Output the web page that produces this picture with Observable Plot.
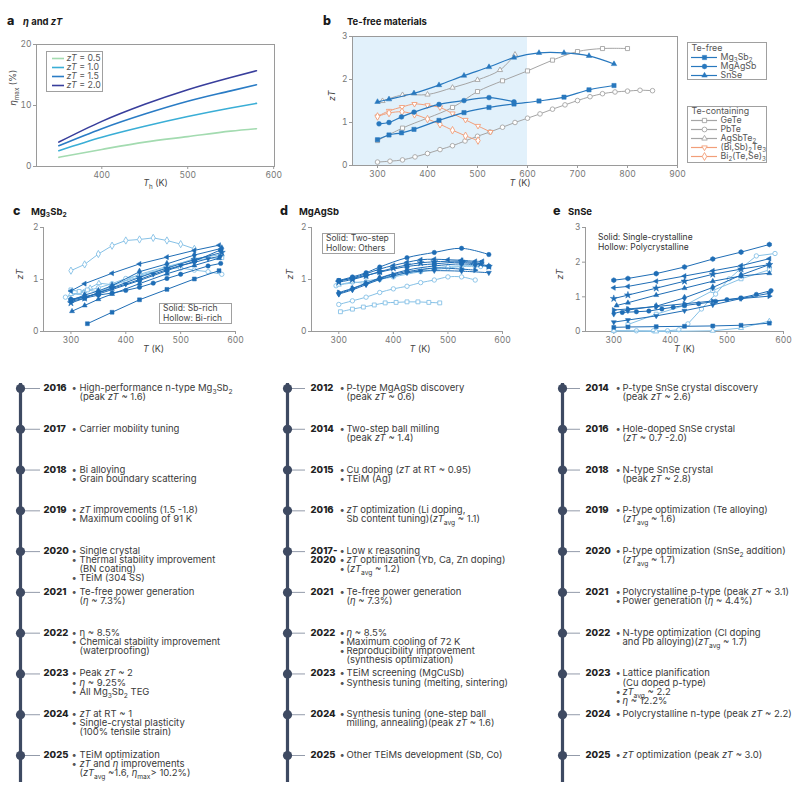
<!DOCTYPE html>
<html><head><meta charset="utf-8">
<script src="https://cdn.jsdelivr.net/npm/d3@7"></script>
<script src="https://cdn.jsdelivr.net/npm/@observablehq/plot@0.6"></script>
<style>
html,body{margin:0;padding:0;background:#fff;}
#root{position:relative;width:800px;height:800px;overflow:hidden;font-family:Inter,"Noto Sans",sans-serif;}
.ttl{position:absolute;white-space:nowrap;font-size:9.5px;font-weight:700;color:#1a1a1a;line-height:12px;}
.ttl .L{font-size:12.5px;font-weight:800;display:inline-block;}
.box{position:absolute;border:1px solid #a0a0a0;background:#fff;box-sizing:border-box;}
.note{position:absolute;font-size:8.5px;color:#444;line-height:9.6px;white-space:nowrap;}
sub{font-size:0.7em;vertical-align:-0.3em;line-height:0;}
svg{overflow:visible;}
</style></head><body><div id="root"></div>
<script>
// ---------------- DATA ----------------
// panel a
const aT = [350, 400, 450, 500, 550, 580];
const aEta05 = [1.5, 2.8, 4.0, 4.9, 5.8, 6.2];
const aEta10 = [2.6, 4.8, 6.6, 8.2, 9.6, 10.35];
const aEta15 = [3.4, 6.2, 8.6, 10.7, 12.4, 13.4];
const aEta20 = [4.0, 7.4, 10.2, 12.6, 14.6, 15.7];
const aLabels = ["*zT* = 0.5", "*zT* = 1.0", "*zT* = 1.5", "*zT* = 2.0"];
const aColors = ["#a3dbb0", "#3aaed6", "#2a7cc5", "#383e9c"];
const aXDomain = [324, 601], aYDomain = [0, 20];
const aXTicks = [400, 500, 600], aYTicks = [0, 10, 20];

// panel b
const bXDomain = [250, 900], bYDomain = [0, 3];
const bXTicks = [300, 400, 500, 600, 700, 800, 900], bYTicks = [0, 1, 2, 3];
const bShade = [250, 600];
const bMg3Sb2 = [[300,0.6],[323,0.71],[348,0.76],[373,0.84],[423,1.05],[473,1.23],[523,1.35],[573,1.43],[623,1.5],[673,1.59],[723,1.76],[773,1.86]];
const bMgAgSb = [[303,0.97],[323,1.0],[348,1.13],[373,1.24],[423,1.42],[473,1.51],[523,1.58],[573,1.48]];
const bSnSe = [[300,1.48],[323,1.54],[373,1.68],[423,1.87],[473,2.09],[523,2.29],[573,2.51],[623,2.62],[673,2.62],[723,2.55],[773,2.36]];
const bGeTe = [[300,0.58],[350,0.87],[450,1.35],[500,1.72],[550,1.97],[600,2.2],[650,2.45],[700,2.65],[750,2.72],[800,2.72]];
const bPbTe = [[300,0.08],[325,0.1],[350,0.13],[375,0.2],[400,0.28],[425,0.37],[450,0.46],[475,0.57],[500,0.68],[525,0.78],[550,0.89],[575,1.0],[600,1.1],[625,1.2],[650,1.31],[675,1.41],[700,1.51],[725,1.6],[750,1.67],[775,1.71],[800,1.73],[825,1.75],[850,1.74]];
const bAgSbTe2 = [[310,1.5],[350,1.64],[400,1.65],[450,1.81],[500,1.99],[545,2.22],[575,2.58]];
const bBiSbTe = [[300,1.14],[323,1.27],[349,1.36],[374,1.43],[400,1.4],[425,1.35],[450,1.21],[476,1.06],[501,0.92],[526,0.78]];
const bBiTeSe = [[300,1.14],[323,1.22],[349,1.25],[374,1.19],[400,1.08],[425,0.96],[450,0.82],[476,0.69],[501,0.58]];

// panels c-e shared
const cdeXDomain = [250, 600], cdeXTicks = [300, 400, 500, 600];
const cYDomain = [0, 2], dYDomain = [0, 2], eYDomain = [0, 3];
const cYTicks = [0, 1, 2], dYTicks = [0, 1, 2], eYTicks = [0, 1, 2, 3];

// panel c  (Mg3Sb2)
const c1 = [[330,0.15],[375,0.37],[425,0.61],[475,0.81],[525,1.01],[570,1.17]];
const c2 = [[300,0.58],[325,0.64],[350,0.7],[375,0.74],[400,0.79],[425,0.85],[450,0.93],[475,1.02],[500,1.1],[550,1.26],[573,1.31]];
const c3 = [[302,0.39],[325,0.5],[350,0.62],[375,0.72],[425,0.92],[475,1.11],[525,1.27],[570,1.41]];
const c4 = [[300,0.6],[325,0.66],[350,0.74],[375,0.83],[400,0.91],[425,1.0],[450,1.1],[475,1.19],[500,1.27],[525,1.33],[550,1.4],[573,1.45]];
const c5 = [[300,0.78],[325,0.92],[375,1.12],[425,1.3],[475,1.43],[525,1.56],[570,1.66]];
const c6 = [[300,0.55],[325,0.64],[350,0.75],[375,0.84],[425,1.04],[475,1.22],[525,1.38],[575,1.52]];
const c7 = [[300,0.6],[325,0.7],[350,0.78],[375,0.88],[425,1.15],[475,1.3],[525,1.47],[575,1.6]];
const c8 = [[300,0.62],[350,0.72],[425,0.98],[475,1.17],[525,1.35],[573,1.57]];
const c9 = [[300,1.17],[325,1.29],[350,1.49],[375,1.65],[400,1.75],[425,1.77],[450,1.8],[475,1.75],[500,1.68],[525,1.59]];
const c10 = [[290,0.66],[325,0.77],[350,0.84],[375,0.92],[400,1.02],[425,1.08],[475,1.22],[500,1.22],[525,1.18],[550,1.15],[575,1.1]];
const c11 = [[300,0.72],[315,0.74],[335,0.84],[351,0.93],[375,0.9],[425,1.05],[475,1.23],[525,1.4],[575,1.48]];
const c12 = [[300,0.8],[315,0.77],[330,0.8],[350,0.76],[375,0.87],[425,1.1],[475,1.25],[525,1.38],[575,1.42]];

// panel d  (MgAgSb)
const d1 = [[300,0.98],[325,1.05],[350,1.13],[375,1.24],[425,1.42],[475,1.52],[525,1.6],[575,1.48]];
const d2 = [[300,0.97],[325,1.03],[350,1.11],[375,1.2],[400,1.27],[425,1.33],[450,1.38],[475,1.39],[500,1.38],[525,1.37],[550,1.35],[563,1.35]];
const d3 = [[300,0.95],[325,1.0],[350,1.07],[375,1.15],[400,1.22],[425,1.28],[450,1.32],[475,1.34],[525,1.35],[560,1.3],[575,1.25]];
const d4 = [[300,0.98],[325,1.02],[350,1.08],[375,1.14],[425,1.25],[475,1.3],[525,1.33],[575,1.25]];
const d5 = [[300,0.72],[325,0.8],[350,0.9],[375,1.0],[400,1.07],[425,1.13],[450,1.16],[475,1.17],[525,1.16],[575,1.13]];
const d6 = [[300,0.75],[325,0.83],[350,0.93],[375,1.02],[400,1.1],[425,1.15],[475,1.22],[525,1.2],[550,1.18]];
const d7 = [[300,0.73],[325,0.82],[350,0.92],[375,1.03],[425,1.18],[475,1.26],[525,1.3],[550,1.28]];
const d8 = [[300,0.52],[325,0.59],[350,0.66],[375,0.75],[400,0.82],[425,0.87],[450,0.94],[475,0.99],[500,1.05],[525,1.05],[550,0.99]];
const d9 = [[303,0.38],[325,0.43],[345,0.47],[365,0.51],[385,0.55],[405,0.56],[425,0.57],[445,0.57],[465,0.56],[485,0.55]];
const d10 = [[295,0.88],[325,0.95],[350,0.93],[375,1.0],[400,1.05],[450,1.15],[500,1.22],[525,1.25],[560,1.25],[575,1.25]];
const d11 = [[300,0.9],[350,0.97],[400,1.07],[450,1.18],[500,1.25],[550,1.27]];

// panel e  (SnSe)
const e1 = [[300,1.48],[325,1.53],[375,1.67],[425,1.86],[475,2.09],[525,2.29],[575,2.51]];
const e2 = [[300,1.26],[325,1.3],[375,1.45],[425,1.6],[475,1.75],[525,1.9],[575,2.1]];
const e3 = [[300,0.95],[325,1.05],[375,1.25],[425,1.45],[475,1.65],[525,1.8],[575,1.93]];
const e4 = [[305,0.75],[325,0.83],[375,1.05],[425,1.25],[475,1.45],[525,1.6],[575,1.68]];
const e5 = [[300,0.52],[325,0.62],[375,0.73],[425,0.97],[475,1.27],[525,1.63],[575,1.93]];
const e6 = [[300,0.27],[325,0.33],[375,0.45],[425,0.6],[475,0.77],[525,0.95],[575,1.1]];
const e7 = [[315,0.55],[340,0.57],[362,0.59],[385,0.65],[405,0.7],[425,0.75],[450,0.8],[480,0.87],[500,0.92],[525,0.97],[552,1.07],[578,1.18]];
const e8 = [[300,0.62],[325,0.65],[375,0.72],[425,0.8],[475,0.88],[525,0.95],[575,1.02]];
const e9 = [[300,0.12],[325,0.13],[375,0.14],[425,0.15],[475,0.16],[525,0.18],[575,0.24]];
const e10 = [[300,0.02],[340,0.02],[370,0.02],[395,0.02],[415,0.05],[431,0.22],[455,0.65],[480,1.08],[504,1.52],[527,1.85],[552,2.18],[585,2.25]];
const e11 = [[325,0.2],[375,0.5],[425,0.75],[475,1.18],[525,1.52],[575,1.78]];
const e12 = [[300,0.02],[375,0.0],[475,0.02],[525,0.1],[575,0.3]];

// timelines
const mgYears = ["2016","2017","2018","2019","2020","2021","2022","2023","2024","2025"];
const mgNotes = [
  ["High-performance n-type Mg_{3}Sb_{2}\n(peak *zT* ~ 1.6)"],
  ["Carrier mobility tuning"],
  ["Bi alloying","Grain boundary scattering"],
  ["*zT* improvements (1.5 -1.8)","Maximum cooling of 91 K"],
  ["Single crystal","Thermal stability improvement\n(BN coating)","TEiM (304 SS)"],
  ["Te-free power generation\n(*η* ~ 7.3%)"],
  ["η ~ 8.5%","Chemical stability improvement\n(waterproofing)"],
  ["Peak *zT* ~ 2","*η* ~ 9.25%","All Mg_{3}Sb_{2} TEG"],
  ["*zT* at RT ~ 1","Single-crystal plasticity\n(100% tensile strain)"],
  ["TEiM optimization","*zT* and *η* improvements\n(*zT*_{avg} ~1.6, *η*_{max}> 10.2%)"]
];
const agYears = ["2012","2014","2015","2016","2017-\n2020","2021","2022","2023","2024","2025"];
const agNotes = [
  ["P-type MgAgSb discovery\n(peak *zT* ~ 0.6)"],
  ["Two-step ball milling\n(peak *zT* ~ 1.4)"],
  ["Cu doping (*zT* at RT ~ 0.95)","TEiM (Ag)"],
  ["*zT* optimization (Li doping,\nSb content tuning)(*zT*_{avg} ~ 1.1)"],
  ["Low κ reasoning","*zT* optimization (Yb, Ca, Zn doping)","(*zT*_{avg} ~ 1.2)"],
  ["Te-free power generation\n(*η* ~ 7.3%)"],
  ["*η* ~ 8.5%","Maximum cooling of 72 K","Reproducibility improvement\n(synthesis optimization)"],
  ["TEiM screening (MgCuSb)","Synthesis tuning (melting, sintering)"],
  ["Synthesis tuning (one-step ball\nmilling, annealing)(peak *zT* ~ 1.6)"],
  ["Other TEiMs development (Sb, Co)"]
];
const snYears = ["2014","2016","2018","2019","2020","2021","2022","2023","2024","2025"];
const snNotes = [
  ["P-type SnSe crystal discovery\n(peak *zT* ~ 2.6)"],
  ["Hole-doped SnSe crystal\n(*zT* ~ 0.7 -2.0)"],
  ["N-type SnSe crystal\n(peak *zT* ~ 2.8)"],
  ["P-type optimization (Te alloying)\n(*zT*_{avg} ~ 1.6)"],
  ["P-type optimization (SnSe_{2} addition)\n(*zT*_{avg} ~ 1.7)"],
  ["Polycrystalline p-type (peak *zT* ~ 3.1)","Power generation (*η* ~ 4.4%)"],
  ["N-type optimization (Cl doping\nand Pb alloying)(*zT*_{avg} ~ 1.7)"],
  ["Lattice planification\n(Cu doped p-type)","*zT*_{avg} ~ 2.2","*η* ~ 12.2%"],
  ["Polycrystalline n-type (peak *zT* ~ 2.2)"],
  ["*zT* optimization (peak *zT* ~ 3.0)"]
];

// ---------------- RENDER ----------------
const FONT = "Inter, 'Noto Sans', sans-serif";
const AX = "#9a9a9a";
const BLUE = "#2878be", GRAY = "#a5a5a5", ORANGE = "#f29e79";
const SOLID = "#1f6db5", HOLLOW = "#86c1e6";
const baseStyle = {fontFamily: FONT, fontSize: "8.5px", color: "#777", background: "transparent", overflow: "visible"};
const fmt = d => String(d);
const root = document.getElementById("root");
function put(el, x, y) { el.style.position = "absolute"; el.style.left = x + "px"; el.style.top = y + "px"; root.appendChild(el); return el; }
function html(s, cls, x, y, extra) { const d = document.createElement("div"); d.className = cls; d.innerHTML = s; if (extra) Object.assign(d.style, extra); return put(d, x, y); }

const SYM = {sq:["square",0], ci:["circle",0], tr:["triangle",0], td:["triangle",180], tl:["triangle",-90], trr:["triangle",90], di:["diamond",0], st:["star",0], hx:["hexagon",0]};
function symR(sym, r) { return SYM[sym][0] === "triangle" ? r * 0.85 : r; }
function seriesMarks(pts, color, sym, hollow, r = 2.2, sw = 1, curve = "linear") {
  const [symbol, rotate] = SYM[sym];
  return [
    Plot.line(pts, {x: d => d[0], y: d => d[1], stroke: color, strokeWidth: sw, curve}),
    Plot.dot(pts, {x: d => d[0], y: d => d[1], symbol, rotate, r: symR(sym, r), fill: hollow ? "white" : color, stroke: color, strokeWidth: hollow ? 0.9 : 0.5})
  ];
}
function axesMarks(xt, yt, xd, yd, frame) {
  return [
    frame ? Plot.frame({stroke: AX}) : [Plot.ruleX([xd[0]], {stroke: AX}), Plot.ruleY([yd[0]], {stroke: AX})],
    Plot.axisX({ticks: xt, tickFormat: fmt, tickSize: 3, tickPadding: 2, stroke: AX, label: null}),
    Plot.axisY({ticks: yt, tickFormat: fmt, tickSize: 3, tickPadding: 2, stroke: AX, label: null})
  ];
}
function axisLabels(ylab, xlab, ydx, xdy, xdx) {
  return [
    Plot.text([ylab], {text: d => d, frameAnchor: "left", dx: ydx, rotate: -90, fill: "#444", fontSize: 9}),
    Plot.text([xlab], {text: d => d, frameAnchor: "bottom", dy: xdy, dx: xdx, fill: "#444", fontSize: 9})
  ];
}

// ---- panel a
const aSeries = [aEta05, aEta10, aEta15, aEta20];
put(Plot.plot({
  width: 285, height: 160, marginLeft: 36, marginRight: 11, marginTop: 14, marginBottom: 24,
  x: {domain: aXDomain}, y: {domain: aYDomain}, style: baseStyle,
  marks: [
    axesMarks(aXTicks, aYTicks, aXDomain, aYDomain, true),
    aSeries.map((s, k) => Plot.line(aT.map((t, i) => [t, s[i]]), {x: d => d[0], y: d => d[1], stroke: aColors[k], strokeWidth: 1.6, curve: "monotone-x"})),
    axisLabels("*η*_{max} (%)", "*T*_{h} (K)", -23, 19, 0)
  ]
}), 0, 30);

function legendPlot(items, w, h, y0, step, lx1, lx2, mx, tx) {
  const labels = items.map(d => d.label);
  return Plot.plot({
    width: w, height: h, margin: 0,
    x: {domain: [0, w], range: [0, w], axis: null},
    y: {type: "point", domain: labels, range: [y0, y0 + step * (labels.length - 1)], padding: 0, axis: null},
    style: baseStyle,
    marks: items.map(it => it.title ? [
      Plot.text([it.label], {y: d => d, x: lx1, text: d => d, textAnchor: "start", fill: "#555", fontSize: 8.8})
    ] : [
      Plot.ruleY([it.label], {y: d => d, x1: lx1, x2: lx2, stroke: it.color, strokeWidth: it.sw || 1.2}),
      it.sym ? Plot.dot([it.label], {y: d => d, x: mx, symbol: SYM[it.sym][0], rotate: SYM[it.sym][1], r: symR(it.sym, 2.4), fill: it.hollow ? "white" : it.color, stroke: it.color, strokeWidth: it.hollow ? 0.9 : 0.5}) : [],
      Plot.text([it.label], {y: d => d, x: tx, text: d => d, textAnchor: "start", fill: "#555", fontSize: 8.8})
    ])
  });
}
// legend a
const boxA = html("", "box", 46, 51, {width: "57px", height: "41px"});
boxA.appendChild(legendPlot(aLabels.map((l, k) => ({label: l, color: aColors[k], sw: 1.6})), 55, 39, 5.5, 9.4, 5, 17, 0, 19));

// ---- panel b
const bTeFree = [
  {d: bMg3Sb2, label: "Mg_{3}Sb_{2}", color: BLUE, sym: "sq", hollow: false},
  {d: bMgAgSb, label: "MgAgSb", color: BLUE, sym: "ci", hollow: false},
  {d: bSnSe, label: "SnSe", color: BLUE, sym: "tr", hollow: false}
];
const bTeCont = [
  {d: bGeTe, label: "GeTe", color: GRAY, sym: "sq", hollow: true},
  {d: bPbTe, label: "PbTe", color: GRAY, sym: "ci", hollow: true},
  {d: bAgSbTe2, label: "AgSbTe_{2}", color: GRAY, sym: "tr", hollow: true},
  {d: bBiSbTe, label: "(Bi,Sb)_{2}Te_{3}", color: ORANGE, sym: "td", hollow: true},
  {d: bBiTeSe, label: "Bi_{2}(Te,Se)_{3}", color: ORANGE, sym: "di", hollow: true}
];
put(Plot.plot({
  width: 365, height: 170, marginLeft: 32, marginRight: 8, marginTop: 16, marginBottom: 25,
  x: {domain: bXDomain}, y: {domain: bYDomain}, style: baseStyle,
  marks: [
    Plot.rect([bShade], {x1: d => d[0], x2: d => d[1], y1: () => bYDomain[0], y2: () => bYDomain[1], fill: "#e2f1fb"}),
    axesMarks(bXTicks, bYTicks, bXDomain, bYDomain, true),
    bTeCont.map(s => seriesMarks(s.d, s.color, s.sym, true, 2.3, 1, "catmull-rom")),
    bTeFree.map(s => seriesMarks(s.d, s.color, s.sym, false, 2.4, 1.2, "catmull-rom")),
    axisLabels("*zT*", "*T* (K)", -20, 20, 5)
  ]
}), 320, 20);
const boxB1 = html("", "box", 687, 42, {width: "80px", height: "38px"});
boxB1.appendChild(legendPlot([{label: "Te-free", title: true}, ...bTeFree], 78, 36, 4, 9.75, 3, 29, 16, 32));
const boxB2 = html("", "box", 687, 106, {width: "80px", height: "57px"});
boxB2.appendChild(legendPlot([{label: "Te-containing", title: true}, ...bTeCont], 78, 55, 3, 9.2, 3, 29, 16, 32));

// ---- panel c
const cSolid = [[c1,"sq"],[c2,"ci"],[c3,"tr"],[c4,"td"],[c5,"tl"],[c6,"st"],[c7,"di"],[c8,"hx"]];
const cHollow = [[c9,"di"],[c10,"ci"],[c11,"tr"],[c12,"sq"]];
put(Plot.plot({
  width: 270, height: 145, marginLeft: 43, marginRight: 35, marginTop: 12, marginBottom: 29,
  x: {domain: cdeXDomain}, y: {domain: cYDomain}, style: baseStyle,
  marks: [
    axesMarks(cdeXTicks, cYTicks, cdeXDomain, cYDomain, false),
    cHollow.map(([d, s]) => seriesMarks(d, HOLLOW, s, true)),
    cSolid.map(([d, s]) => seriesMarks(d, SOLID, s, false)),
    axisLabels("*zT*", "*T* (K)", -23, 20, 14)
  ]
}), 0, 215);

// ---- panel d
const dSolid = [[d1,"ci"],[d2,"tl"],[d3,"st"],[d4,"sq"],[d5,"td"],[d6,"trr"],[d7,"di"]];
const dHollow = [[d8,"ci"],[d9,"sq"],[d10,"ci"],[d11,"tr"]];
put(Plot.plot({
  width: 270, height: 145, marginLeft: 41, marginRight: 38, marginTop: 12, marginBottom: 29,
  x: {domain: cdeXDomain}, y: {domain: dYDomain}, style: baseStyle,
  marks: [
    axesMarks(cdeXTicks, dYTicks, cdeXDomain, dYDomain, false),
    dHollow.map(([d, s]) => seriesMarks(d, HOLLOW, s, true, 2.2, 1, "catmull-rom")),
    dSolid.map(([d, s]) => seriesMarks(d, SOLID, s, false, 2.2, 1, "catmull-rom")),
    axisLabels("*zT*", "*T* (K)", -21, 20, 13)
  ]
}), 270, 215);

// ---- panel e
const eSolid = [[e1,"hx"],[e2,"tl"],[e3,"st"],[e4,"tr"],[e5,"di"],[e6,"td"],[e7,"ci"],[e8,"trr"],[e9,"sq"]];
const eHollow = [[e10,"ci"],[e11,"sq"],[e12,"tr"]];
put(Plot.plot({
  width: 260, height: 145, marginLeft: 45, marginRight: 17, marginTop: 12, marginBottom: 29,
  x: {domain: cdeXDomain}, y: {domain: eYDomain}, style: baseStyle,
  marks: [
    axesMarks(cdeXTicks, eYTicks, cdeXDomain, eYDomain, false),
    eHollow.map(([d, s]) => seriesMarks(d, HOLLOW, s, true)),
    eSolid.map(([d, s]) => seriesMarks(d, SOLID, s, false)),
    axisLabels("*zT*", "*T* (K)", -25, 20, 0)
  ]
}), 540, 215);

// titles & notes
html('<span class="L" style="width:16px">a</span><i>η</i> and <i>zT</i>', "ttl", 7, 15);
html('<span class="L" style="width:24px">b</span>Te-free materials', "ttl", 323, 15);
html('<span class="L" style="width:18px">c</span>Mg<sub>3</sub>Sb<sub>2</sub>', "ttl", 13, 205);
html('<span class="L" style="width:19px">d</span>MgAgSb', "ttl", 280, 205);
html('<span class="L" style="width:15px">e</span>SnSe', "ttl", 553, 205);
html("Solid: Sb-rich<br>Hollow: Bi-rich", "note box", 159, 303, {padding: "0 3px", height: "21px", lineHeight: "9.6px", width: "73px"});
html("Solid: Two-step<br>Hollow: Others", "note box", 322, 233, {padding: "0 3px", height: "21px", lineHeight: "9.6px", width: "73px"});
html("Solid: Single-crystalline<br>Hollow: Polycrystalline", "note", 598, 233, {color: "#333"});

// ---- timelines
function timeline(years, notes, cfg, w) {
  const rows = years.map((yr, i) => {
    const lines = [], bl = [];
    notes[i].forEach(n => n.split("\n").forEach((ln, k) => { lines.push(ln); bl.push(k === 0 ? "•" : ""); }));
    return {i, yr, text: lines.join("\n"), bul: bl.join("\n")};
  });
  const tstyle = {textAnchor: "start", lineAnchor: "top", dy: -4, fontSize: 9.5, lineHeight: 0.96};
  return Plot.plot({
    width: w, height: 425, marginTop: 8, marginBottom: 18, marginLeft: 0, marginRight: 0,
    x: {domain: [0, w], range: [0, w], axis: null},
    y: {domain: [0, years.length - 1], range: [13, 380], axis: null},
    style: {fontFamily: FONT, fontSize: "9.5px", background: "transparent", overflow: "visible"},
    marks: [
      Plot.ruleX([cfg.dotX], {stroke: "#3e4a62", strokeWidth: 3.2}),
      Plot.ruleY(rows, {y: "i", x1: cfg.dotX, x2: cfg.connX, stroke: "#8790a0", strokeWidth: 0.9}),
      Plot.dot(rows, {x: cfg.dotX, y: "i", r: 4.6, fill: "#3e4a62"}),
      Plot.text(rows, {x: cfg.yearX, y: "i", text: "yr", fontWeight: 800, fill: "#222", ...tstyle}),
      Plot.text(rows, {x: cfg.bulX, y: "i", text: "bul", fill: "#555", ...tstyle}),
      Plot.text(rows, {x: cfg.textX, y: "i", text: "text", fill: "#3a3a3a", ...tstyle})
    ]
  });
}
put(timeline(mgYears, mgNotes, {dotX: 20, connX: 40, yearX: 43, bulX: 71, textX: 79}, 265), 0, 375);
put(timeline(agYears, agNotes, {dotX: 17, connX: 35, yearX: 40, bulX: 69, textX: 76}, 265), 270, 375);
put(timeline(snYears, snNotes, {dotX: 22, connX: 40, yearX: 45, bulX: 75, textX: 82}, 260), 540, 375);

// ---- rich text: *italic*, _{subscript}
function parseRich(s) {
  const segs = []; let italic = false, buf = "", i = 0;
  const flush = () => { if (buf) { segs.push({t: buf, italic, sub: false}); buf = ""; } };
  while (i < s.length) {
    const c = s[i];
    if (c === "*") { flush(); italic = !italic; i++; continue; }
    if (c === "_" && s[i + 1] === "{") { flush(); const j = s.indexOf("}", i); segs.push({t: s.slice(i + 2, j), italic: false, sub: true}); i = j + 1; continue; }
    buf += c; i++;
  }
  flush();
  return segs;
}
const NS = "http://www.w3.org/2000/svg";
root.querySelectorAll("svg text").forEach(t => {
  const spans = Array.from(t.querySelectorAll("tspan"));
  const targets = spans.length ? spans : [t];
  targets.forEach(el => {
    const s = el.textContent;
    if (!/\*|_\{/.test(s)) return;
    const fs = parseFloat(getComputedStyle(el).fontSize) || 9;
    el.textContent = "";
    parseRich(s).forEach(g => {
      const ts = document.createElementNS(NS, "tspan");
      ts.textContent = g.t;
      if (g.italic) ts.setAttribute("font-style", "italic");
      if (g.sub) { ts.setAttribute("font-size", (fs * 0.7).toFixed(2) + "px"); ts.setAttribute("baseline-shift", (-fs * 0.28).toFixed(2)); }
      el.appendChild(ts);
    });
  });
});
</script></body></html>
